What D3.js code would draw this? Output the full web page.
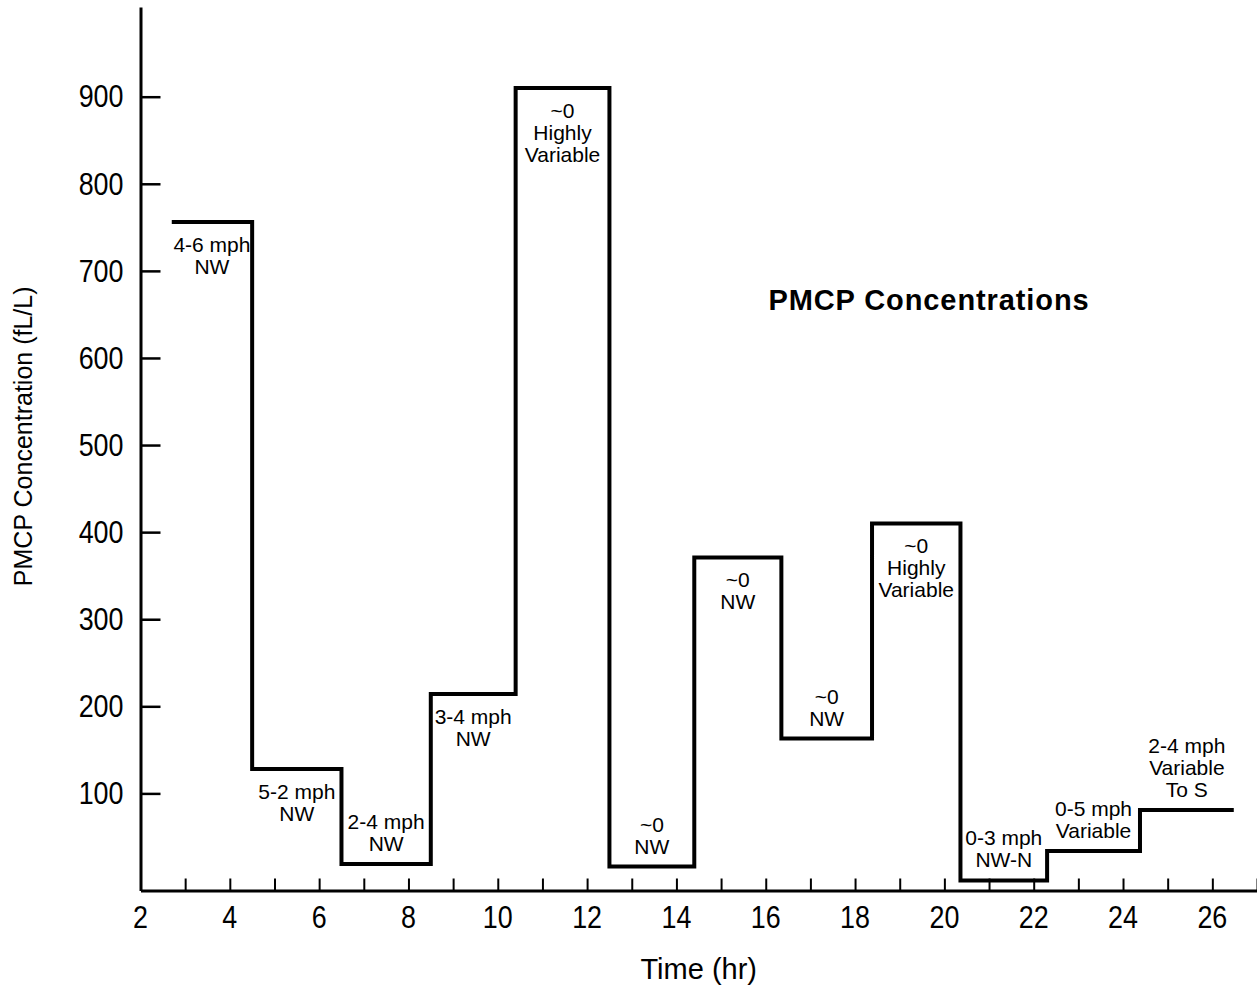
<!DOCTYPE html>
<html>
<head>
<meta charset="utf-8">
<script src="https://cdn.jsdelivr.net/npm/d3@7"></script>
<style>
  body { margin: 0; background: #fff; }
</style>
</head>
<body>
<svg id="chart" width="1257" height="992"></svg>
<script>
// ====================================================================
// data
var step_start = [2.7, 4.5, 6.5, 8.5, 10.4, 12.5, 14.4, 16.35, 18.38, 20.36, 22.3, 24.38];
var step_end = 26.48;
var step_value = [756, 128, 19, 214, 910, 16, 371, 163, 410, 0, 34, 81];
var wind_label = [
  ["4-6 mph", "NW"],
  ["5-2 mph", "NW"],
  ["2-4 mph", "NW"],
  ["3-4 mph", "NW"],
  ["~0", "Highly", "Variable"],
  ["~0", "NW"],
  ["~0", "NW"],
  ["~0", "NW"],
  ["~0", "Highly", "Variable"],
  ["0-3 mph", "NW-N"],
  ["0-5 mph", "Variable"],
  ["2-4 mph", "Variable", "To S"]
];
// label sits under the step line or over it
var label_side = ["below", "below", "above", "below", "below", "above",
                  "below", "above", "below", "above", "above", "above"];
var x_tick_values = [3, 4, 5, 6, 7, 8, 9, 10, 11, 12, 13, 14, 15, 16, 17, 18, 19, 20, 21, 22, 23, 24, 25, 26, 27];
var x_tick_labels = [2, 4, 6, 8, 10, 12, 14, 16, 18, 20, 22, 24, 26];
var y_tick_values = [100, 200, 300, 400, 500, 600, 700, 800, 900];
var chart_title = "PMCP Concentrations";
var x_title = "Time (hr)";
var y_title = "PMCP Concentration (fL/L)";

// ====================================================================
// globals
var str_font = "'Liberation Sans', Arial, Helvetica, sans-serif";
var int_line_height = 22;
// tick numbers in the figure are a condensed face
var flt_squeeze = 0.84;

var svg = d3.select("#chart");

var x = d3.scaleLinear().domain([2, 27]).range([140.5, 1257]);
var y = d3.scaleLinear().domain([-11.5, 1003]).range([890.5, 7]);

// ====================================================================
// x axis
var x_axis_group = svg.append("g")
  .attr("transform", "translate(0," + y(-11.5) + ")")
  .call(d3.axisBottom(x)
    .tickValues(x_tick_values)
    .tickSizeInner(-12)
    .tickSizeOuter(0)
    .tickFormat(function(d) { return ""; }));

x_axis_group.selectAll(".tick line").attr("stroke-width", 2);
x_axis_group.select(".domain").attr("stroke-width", 3);

// even hour labels
svg.append("g")
  .selectAll("g")
  .data(x_tick_labels)
  .enter()
  .append("g")
  .attr("transform", function(d) { return "translate(" + x(d) + "," + (y(-11.5) + 37) + ")"; })
  .append("text")
  .attr("transform", "scale(" + flt_squeeze + ",1)")
  .attr("text-anchor", "middle")
  .style("font-family", str_font)
  .style("font-size", "32px")
  .text(function(d) { return d; });

// ====================================================================
// y axis, ticks point into the plot
var y_axis_group = svg.append("g")
  .attr("transform", "translate(" + x(2) + ",0)")
  .call(d3.axisLeft(y)
    .tickValues(y_tick_values)
    .tickSizeInner(-20)
    .tickSizeOuter(0)
    .tickPadding(17 / flt_squeeze));

y_axis_group.selectAll(".tick line").attr("stroke-width", 2.5);
y_axis_group.select(".domain").attr("stroke-width", 3);
y_axis_group.selectAll(".tick text")
  .attr("transform", "scale(" + flt_squeeze + ",1)")
  .style("font-family", str_font)
  .style("font-size", "32px")
  .attr("fill", "#000");

// ====================================================================
// step line
var step_points = step_start.map(function(s, i) { return [s, step_value[i]]; });
step_points.push([step_end, step_value[step_value.length - 1]]);

var step_line = d3.line()
  .x(function(d) { return x(d[0]); })
  .y(function(d) { return y(d[1]); })
  .curve(d3.curveStepAfter);

svg.append("path")
  .datum(step_points)
  .attr("d", step_line)
  .attr("fill", "none")
  .attr("stroke", "#000")
  .attr("stroke-width", 4)
  .attr("stroke-linejoin", "miter");

// ====================================================================
// wind labels, centred over each step
var label_group = svg.append("g")
  .style("font-family", str_font)
  .style("font-size", "21px");

wind_label.forEach(function(lines, i) {
  var step_stop = i < step_start.length - 1 ? step_start[i + 1] : step_end;
  var cx = x((step_start[i] + step_stop) / 2);
  var first_y = label_side[i] == "below"
    ? y(step_value[i]) + 30
    : y(step_value[i]) - 13 - (lines.length - 1) * int_line_height;
  var txt = label_group.append("text")
    .attr("text-anchor", "middle")
    .attr("x", cx)
    .attr("y", first_y);
  lines.forEach(function(str_line, j) {
    txt.append("tspan")
      .attr("x", cx)
      .attr("dy", j == 0 ? 0 : int_line_height)
      .text(str_line);
  });
});

// ====================================================================
// titles
svg.append("text")
  .attr("x", 929)
  .attr("y", 310)
  .attr("text-anchor", "middle")
  .style("font-family", str_font)
  .style("font-weight", "bold")
  .style("font-size", "29px")
  .style("letter-spacing", "0.9px")
  .text(chart_title);

svg.append("text")
  .attr("x", x(14.5))
  .attr("y", 979)
  .attr("text-anchor", "middle")
  .style("font-family", str_font)
  .style("font-size", "29px")
  .text(x_title);

svg.append("text")
  .attr("transform", "translate(32," + y(510) + ") rotate(-90)")
  .attr("text-anchor", "middle")
  .style("font-family", str_font)
  .style("font-size", "25px")
  .text(y_title);
</script>
</body>
</html>
